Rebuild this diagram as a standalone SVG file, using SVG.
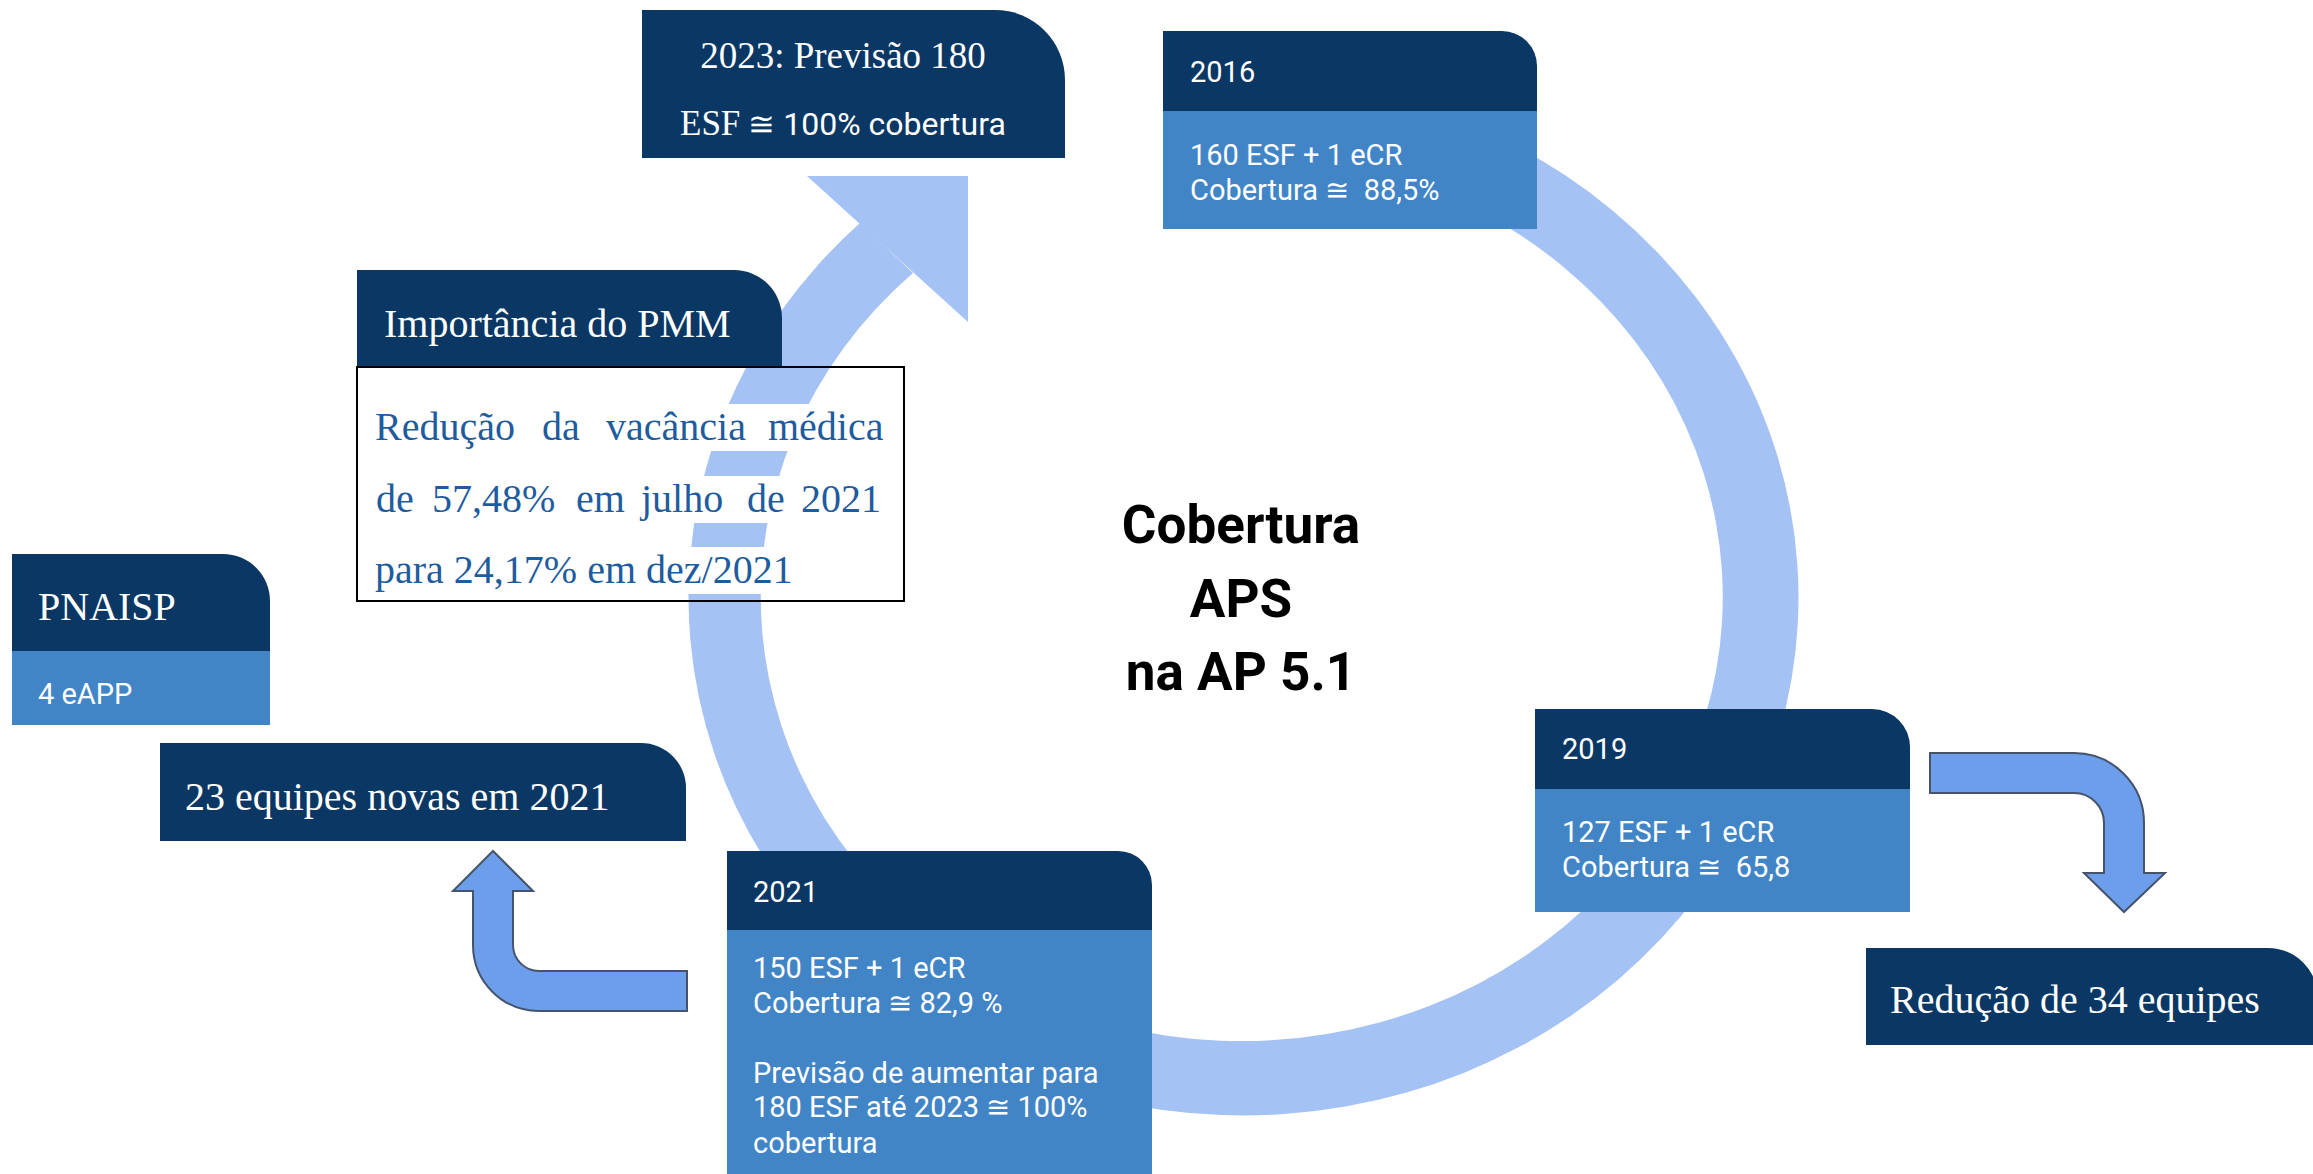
<svg xmlns="http://www.w3.org/2000/svg" width="2313" height="1174" viewBox="0 0 2313 1174">
<defs>
<style>
.hd{fill:#0A3763}
.bd{fill:#4185C7}
.band{fill:#A4C2F4}
.arr{fill:#6D9EEB;stroke:#46546B;stroke-width:2;stroke-linejoin:miter}
.serif{font-family:"Liberation Serif","Times New Roman",serif}
.sans{font-family:Roboto,"Liberation Sans",Arial,sans-serif;white-space:pre}
.w{fill:#FFFFFF}
.hl{fill:#FFFFFF}
.blue{fill:#1F5C9E}
.big{font-family:Roboto,"Liberation Sans",Arial,sans-serif;font-weight:bold;font-size:53px;fill:#000000;text-anchor:middle}
</style>
</defs>
<rect x="0" y="0" width="2313" height="1174" fill="#FFFFFF"/>

<g id="connectors">
  <path class="band" d="M1337.4,86.9 A555,518 0 1 1 860,223 L913,273 A481,444 0 1 0 1324.5,159.7 Z"/>
  <polygon class="band" points="807,176 968,176 968,322"/>
  <path class="arr" d="M1930,753 H2074 A70,70 0 0 1 2144,823 V873 H2165 L2124,912 L2084,873 H2104 V823 A30,30 0 0 0 2074,793 H1930 Z"/>
  <path class="arr" d="M687,971 H539 A26,26 0 0 1 513,945 V891 H533 L493,851 L453,891 H473 V945 A66,66 0 0 0 539,1011 H687 Z"/>
</g>

<g id="node-2023">
  <path class="hd" d="M642,10 H995 A70,70 0 0 1 1065,80 V158 H642 Z"/>
  <text class="serif w" x="843" y="68" font-size="37" text-anchor="middle">2023: Previsão 180</text>
  <text class="w" x="680" y="135"><tspan class="serif" font-size="35">ESF</tspan><tspan class="sans" font-size="32"> ≅ 100% cobertura</tspan></text>
</g>

<g id="node-2016">
  <path class="hd" d="M1163,31 H1502 A35,35 0 0 1 1537,66 V111 H1163 Z"/>
  <rect class="bd" x="1163" y="111" width="374" height="118"/>
  <text class="sans w" x="1190" y="82" font-size="29">2016</text>
  <text class="sans w" x="1190" y="165" font-size="29">160 ESF + 1 eCR</text>
  <text class="sans w" x="1190" y="200" font-size="29">Cobertura ≅  88,5%</text>
</g>

<g id="node-pmm">
  <path class="hd" d="M357,270 H734 A48,48 0 0 1 782,318 V367 H357 Z"/>
  <text class="serif w" x="384" y="337" font-size="40">Importância do PMM</text>
  <rect class="hl" x="372" y="404" width="518" height="47"/>
  <rect class="hl" x="372" y="476" width="518" height="47"/>
  <rect class="hl" x="372" y="547" width="428" height="47"/>
  <rect x="357" y="367" width="547" height="234" fill="none" stroke="#000000" stroke-width="2"/>
  <text class="serif blue" font-size="40" y="440"><tspan x="375">Redução</tspan><tspan x="542">da</tspan><tspan x="606">vacância</tspan><tspan x="768">médica</tspan></text>
  <text class="serif blue" font-size="40" y="512"><tspan x="376">de</tspan><tspan x="432">57,48%</tspan><tspan x="576">em</tspan><tspan x="641">julho</tspan><tspan x="747">de</tspan><tspan x="801">2021</tspan></text>
  <text class="serif blue" font-size="40" x="375" y="583">para 24,17% em dez/2021</text>
</g>

<g id="node-pnaisp">
  <path class="hd" d="M12,554 H223 A47,47 0 0 1 270,601 V651 H12 Z"/>
  <rect class="bd" x="12" y="651" width="258" height="74"/>
  <text class="serif w" x="38" y="620" font-size="40">PNAISP</text>
  <text class="sans w" x="38" y="704" font-size="29">4 eAPP</text>
</g>

<g id="node-23equipes">
  <path class="hd" d="M160,743 H641 A45,45 0 0 1 686,788 V841 H160 Z"/>
  <text class="serif w" x="185" y="810" font-size="40">23 equipes novas em 2021</text>
</g>

<g id="node-2019">
  <path class="hd" d="M1535,709 H1872 A38,38 0 0 1 1910,747 V789 H1535 Z"/>
  <rect class="bd" x="1535" y="789" width="375" height="123"/>
  <text class="sans w" x="1562" y="759" font-size="29">2019</text>
  <text class="sans w" x="1562" y="842" font-size="29">127 ESF + 1 eCR</text>
  <text class="sans w" x="1562" y="877" font-size="29">Cobertura ≅  65,8</text>
</g>

<g id="node-reducao">
  <path class="hd" d="M1866,948 H2268 A50,50 0 0 1 2318,998 V1045 H1866 Z"/>
  <text class="serif w" x="1890" y="1013" font-size="40">Redução de 34 equipes</text>
</g>

<g id="node-2021">
  <path class="hd" d="M727,851 H1118 A34,34 0 0 1 1152,885 V930 H727 Z"/>
  <rect class="bd" x="727" y="930" width="425" height="250"/>
  <text class="sans w" x="753" y="902" font-size="29">2021</text>
  <text class="sans w" x="753" y="978" font-size="29">150 ESF + 1 eCR</text>
  <text class="sans w" x="753" y="1013" font-size="29">Cobertura ≅ 82,9 %</text>
  <text class="sans w" x="753" y="1083" font-size="29">Previsão de aumentar para</text>
  <text class="sans w" x="753" y="1117" font-size="29">180 ESF até 2023 ≅ 100%</text>
  <text class="sans w" x="753" y="1153" font-size="29">cobertura</text>
</g>

<g id="node-center">
  <text class="big" x="1241" y="543">Cobertura</text>
  <text class="big" x="1241" y="617">APS</text>
  <text class="big" x="1241" y="690">na AP 5.1</text>
</g>
</svg>
